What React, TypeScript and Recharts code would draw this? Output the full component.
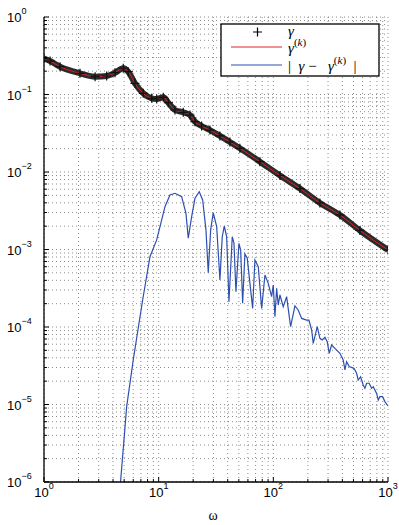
import React from 'react';
import { LineChart, Line, XAxis, YAxis, CartesianGrid } from 'recharts';

// gamma (markers + red fit)
const W_GAMMA = [1, 1.13, 1.38, 2.06, 2.79, 3.52, 4.16, 4.91, 5.43, 6.21, 7.34, 8.69, 9.61, 10.97, 12.13, 13.87, 16.39, 18.75, 20.73, 23.7, 28.0, 34.2, 41.8, 51.1, 76.4, 114.2, 170.6, 254.8, 381, 568.9, 1000];
const GAMMA = [0.291, 0.27, 0.2285, 0.1877, 0.1698, 0.1733, 0.191, 0.218, 0.197, 0.1395, 0.1036, 0.0893, 0.0875, 0.092, 0.0784, 0.0631, 0.0589, 0.0544, 0.0446, 0.0392, 0.0348, 0.0292, 0.0244, 0.0202, 0.0136, 0.00901, 0.00612, 0.00398, 0.00279, 0.00176, 0.000986];

// |gamma - gamma^(k)|
const W_ERR = [4.65, 5.26, 6.0, 7.25, 8.4, 9.61, 11.35, 12.55, 13.87, 15.87, 17.3, 18.12, 19.4, 20.73, 22.59, 24.19, 25.85, 27.07, 28.41, 29.92, 32.05, 34.22, 35.85, 37.33, 39.17, 41.02, 43.83, 45.35, 47.2, 50.1, 51.9, 54.0, 56.5, 59.2, 66.0, 69.1, 73.9, 79.1, 84.5, 90.3, 96.6, 99.8, 103.3, 106.9, 110.3, 114.2, 122.0, 130.6, 141.5, 154.3, 164.8, 176.5, 195, 204.3, 215.8, 222.9, 241.5, 254.8, 267, 281.8, 295.1, 307.3, 322.3, 344.4, 380.7, 406.8, 421, 435.6, 459, 504.4, 532.3, 549.6, 576.8, 607.9, 628.9, 650.8, 685.5, 719.4, 743.3, 795.6, 821.6, 849.6, 897.2, 939.5, 1000];
const ERR = [1e-6, 9.37e-6, 3.75e-5, 2.23e-4, 8.07e-4, 1.33e-3, 3.57e-3, 5.05e-3, 5.31e-3, 4.8e-3, 2.93e-3, 1.4e-3, 2.65e-3, 4.58e-3, 5.57e-3, 4.35e-3, 1.79e-3, 5.02e-4, 1.79e-3, 2.98e-3, 1.97e-3, 4.04e-4, 1.46e-3, 2.01e-3, 1.46e-3, 2.12e-4, 1.46e-3, 1.21e-3, 2.85e-4, 1.2e-3, 9.86e-4, 2.02e-4, 8.75e-4, 7.7e-4, 1.74e-4, 7.32e-4, 6.0e-4, 1.74e-4, 4.69e-4, 3.66e-4, 2.46e-4, 3.48e-4, 1.36e-4, 3.16e-4, 1.92e-4, 2.59e-4, 1.83e-4, 2.46e-4, 1.01e-4, 1.87e-4, 1.66e-4, 1.29e-4, 1.23e-4, 1.23e-4, 9.15e-5, 6.16e-5, 1.01e-4, 7.15e-5, 6.8e-5, 7.36e-5, 6.46e-5, 4.58e-5, 5.86e-5, 5.31e-5, 4.58e-5, 3.75e-5, 2.79e-5, 3.57e-5, 3.08e-5, 2.93e-5, 2.53e-5, 2.07e-5, 2.28e-5, 1.79e-5, 1.62e-5, 1.88e-5, 1.88e-5, 1.62e-5, 1.7e-5, 1.39e-5, 1.14e-5, 1.26e-5, 1.26e-5, 1.09e-5, 9.57e-6];

const X_DECADES = [1, 10, 100];
const Y_DECADES = [1e-6, 1e-5, 1e-4, 1e-3, 1e-2, 1e-1];
const STEPS = [1, 2, 3, 4, 5, 6, 7, 8, 9];
const X_TICKS = [...X_DECADES.flatMap((d) => STEPS.map((s) => s * d)), 1000];
const Y_TICKS = [...Y_DECADES.flatMap((d) => STEPS.map((s) => s * d)), 1];

const RED = '#e02020';
const BLUE = '#2d50b0';

const gammaData = W_GAMMA.map((w, i) => ({ w, v: GAMMA[i] }));
const errData = W_ERR.map((w, i) => ({ w, v: ERR[i] }));

const isMajor = (v: number) => Math.abs(Math.log10(v) - Math.round(Math.log10(v))) < 1e-6;
const expOf = (v: number) => {
    const e = Math.round(Math.log10(v));
    return e < 0 ? `\u2212${-e}` : `${e}`;
};

const TICK_FONT = 'Liberation Sans, Arial, sans-serif';
const SERIF = 'Liberation Serif, serif';

const XTick = (props: any) => {
    const { x, y, payload, side } = props;
    const v = payload.value;
    const major = isMajor(v);
    const len = major ? 5 : 3;
    const dir = side === 'top' ? 1 : -1;
    return (
        <g>
            <line x1={x} y1={y} x2={x} y2={y + dir * len} stroke="#000" strokeWidth={1} />
            {major && side !== 'top' && (
                <text x={x} y={y + 15} textAnchor="middle" fontFamily={TICK_FONT} fontSize={13} fill="#000">
                    <tspan>10</tspan>
                    <tspan dy={-8} fontSize={9}>{expOf(v)}</tspan>
                </text>
            )}
        </g>
    );
};

const YTick = (props: any) => {
    const { x, y, payload, side } = props;
    const v = payload.value;
    const major = isMajor(v);
    const len = major ? 5 : 3;
    const dir = side === 'right' ? -1 : 1;
    return (
        <g>
            <line x1={x} y1={y} x2={x + dir * len} y2={y} stroke="#000" strokeWidth={1} />
            {major && side !== 'right' && (
                <text x={7} y={y + 5} textAnchor="start" fontFamily={TICK_FONT} fontSize={13} fill="#000">
                    <tspan>10</tspan>
                    <tspan dy={-8} fontSize={9}>{expOf(v)}</tspan>
                </text>
            )}
        </g>
    );
};

const Plus = (props: any) => {
    const { cx, cy, index } = props;
    if (cx == null || cy == null) return <g key={index} />;
    return <path key={index} d={`M${cx - 4.5},${cy}h9M${cx},${cy - 4.5}v9`} stroke="#111" strokeWidth={1.2} />;
};

const LegendBox = () => (
    <svg width={160} height={54} style={{ position: 'absolute', left: 220, top: 23 }}>
        <rect x={1} y={1} width={158} height={52} fill="#fff" stroke="#000" strokeWidth={1.3} />
        <path d="M33,9h9M37.5,4.5v9" stroke="#000" strokeWidth={1.2} />
        <text x={68} y={13} fontFamily={SERIF} fontStyle="italic" fontSize={15}>γ</text>
        <line x1={11} y1={24} x2={62} y2={24} stroke={RED} strokeWidth={1} />
        <text x={68} y={30} fontFamily={SERIF} fontSize={15}>
            <tspan fontStyle="italic">γ</tspan>
            <tspan dy={-7} fontSize={11}>(</tspan>
            <tspan fontSize={11} fontStyle="italic">k</tspan>
            <tspan fontSize={11}>)</tspan>
        </text>
        <line x1={11} y1={42} x2={62} y2={42} stroke={BLUE} strokeWidth={1} />
        <text x={68} y={48} fontFamily={SERIF} fontSize={15} xmlSpace="preserve">
            <tspan>|  </tspan>
            <tspan fontStyle="italic">γ</tspan>
            <tspan> −   </tspan>
            <tspan fontStyle="italic">γ</tspan>
            <tspan dy={-7} fontSize={11}>(</tspan>
            <tspan fontSize={11} fontStyle="italic">k</tspan>
            <tspan fontSize={11}>)</tspan>
            <tspan dy={7}>  |</tspan>
        </text>
    </svg>
);

export default function App() {
    return (
        <div style={{ position: 'absolute', left: 0, top: 0, width: 399, height: 525, background: '#fff' }}>
            <LineChart width={399} height={525} margin={{ top: 17, right: 11, left: 0, bottom: 0 }}>
                <CartesianGrid stroke="#000" strokeOpacity={0.45} strokeDasharray="1 3" />
                <XAxis
                    dataKey="w"
                    type="number"
                    scale="log"
                    domain={[1, 1000]}
                    allowDataOverflow
                    ticks={X_TICKS}
                    interval={0}
                    height={43}
                    tickSize={0}
                    tickMargin={0}
                    tick={<XTick side="bottom" />}
                    axisLine={{ stroke: '#000', strokeWidth: 1.3 }}
                    label={{ value: 'ω', position: 'insideBottom', offset: 5, dx: -3, fill: '#000', fontSize: 14, fontFamily: SERIF }}
                />
                <XAxis
                    xAxisId="top"
                    orientation="top"
                    dataKey="w"
                    type="number"
                    scale="log"
                    domain={[1, 1000]}
                    allowDataOverflow
                    ticks={X_TICKS}
                    interval={0}
                    height={0}
                    tickSize={0}
                    tickMargin={0}
                    tick={<XTick side="top" />}
                    axisLine={{ stroke: '#000', strokeWidth: 1.3 }}
                />
                <YAxis
                    dataKey="v"
                    type="number"
                    scale="log"
                    domain={[1e-6, 1]}
                    allowDataOverflow
                    ticks={Y_TICKS}
                    interval={0}
                    width={44}
                    tickSize={0}
                    tickMargin={0}
                    tick={<YTick side="left" />}
                    axisLine={{ stroke: '#000', strokeWidth: 1.3 }}
                />
                <YAxis
                    yAxisId="right"
                    orientation="right"
                    dataKey="v"
                    type="number"
                    scale="log"
                    domain={[1e-6, 1]}
                    allowDataOverflow
                    ticks={Y_TICKS}
                    interval={0}
                    width={0}
                    tickSize={0}
                    tickMargin={0}
                    tick={<YTick side="right" />}
                    axisLine={{ stroke: '#000', strokeWidth: 1.3 }}
                />
                <Line data={gammaData} dataKey="v" type="monotone" stroke="#2b2b2b" strokeWidth={6} dot={false} isAnimationActive={false} />
                <Line data={gammaData} dataKey="v" type="monotone" stroke="none" dot={<Plus />} isAnimationActive={false} />
                <Line data={gammaData} dataKey="v" type="monotone" stroke={RED} strokeWidth={1} dot={false} isAnimationActive={false} />
                <Line data={errData} dataKey="v" type="linear" stroke={BLUE} strokeWidth={1.2} dot={false} isAnimationActive={false} />
            </LineChart>
            <LegendBox />
        </div>
    );
}
